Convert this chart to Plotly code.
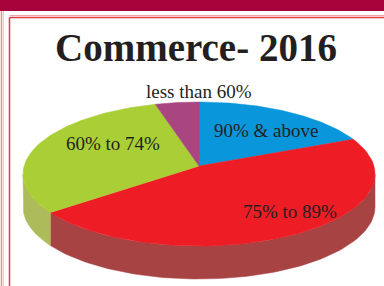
import numpy as np
import plotly.graph_objects as go

# ---- data ----
categories = ["90% & above", "75% to 89%", "60% to 74%", "less than 60%"]
values = [17, 49, 30, 4]
title_text = "Commerce- 2016"

# ---- styles ----
top_colors = ["#0A96DA", "#EE1C25", "#AACE36", "#A9467F"]
side_colors = ["#0A6E9E", "#A84343", "#AEBB5A", "#7A3360"]
label_pos = {  # label anchor positions (pixel space)
    "90% & above": (266, 130),
    "75% to 89%": (290, 211),
    "60% to 74%": (113, 143),
    "less than 60%": (199, 91),
}

W, H = 384, 286
cx, cy = 199, 174      # ellipse centre of top face
rx, ry = 176, 72       # ellipse radii
vy = 166               # apparent pie vertex (perspective)
thick = 33             # side depth


def arc(a0, a1, n=80):
    th = np.radians(np.linspace(a0, a1, n))
    return cx + rx * np.sin(th), cy - ry * np.cos(th)


fig = go.Figure()

total = sum(values)
bounds = np.concatenate([[0], np.cumsum(values) / total * 360])

# sides (front half only: 90..270 deg)
for i, cat in enumerate(categories):
    a0, a1 = max(bounds[i], 90), min(bounds[i + 1], 270)
    if a1 <= a0:
        continue
    xs, ys = arc(a0, a1)
    px = np.concatenate([xs, xs[::-1], xs[:1]])
    py = np.concatenate([ys, ys[::-1] + thick, ys[:1]])
    fig.add_trace(go.Scatter(x=px, y=py, mode="lines", fill="toself",
                             fillcolor=side_colors[i], line=dict(width=0.5, color=side_colors[i]),
                             hoverinfo="skip", showlegend=False))

# top faces
for i, cat in enumerate(categories):
    xs, ys = arc(bounds[i], bounds[i + 1])
    px = np.concatenate([[cx], xs, [cx]])
    py = np.concatenate([[vy], ys, [vy]])
    fig.add_trace(go.Scatter(x=px, y=py, mode="lines", fill="toself",
                             fillcolor=top_colors[i], line=dict(width=0.5, color=top_colors[i]),
                             name=cat, showlegend=False))

annotations = []
for cat in categories:
    x, y = label_pos[cat]
    annotations.append(dict(x=x, y=y, xref="x", yref="y", text=cat, showarrow=False,
                            font=dict(family="Liberation Serif", size=19, color="#231F20")))
annotations.append(dict(x=196, y=47, xref="x", yref="y", text="<b>" + title_text + "</b>",
                        showarrow=False,
                        font=dict(family="Liberation Serif", size=39, color="#231F20")))
# partially visible heading in banner
annotations.append(dict(x=102, y=-7, xref="x", yref="y", text="<b>e- 2016</b>",
                        showarrow=False, xanchor="right",
                        font=dict(family="Liberation Serif", size=34, color="#FFFFFF")))

shapes = [
    dict(type="rect", xref="x", yref="y", x0=-5, x1=W + 5, y0=-5, y1=11,
         fillcolor="#A6043A", line=dict(width=0), layer="below"),
    dict(type="line", xref="x", yref="y", x0=9.5, x1=W + 5, y0=15.5, y1=15.5,
         line=dict(color="#F4A3A8", width=1)),
    dict(type="line", xref="x", yref="y", x0=9.5, x1=W + 5, y0=17.5, y1=17.5,
         line=dict(color="#E33A45", width=1.5)),
    dict(type="line", xref="x", yref="y", x0=9.5, x1=9.5, y0=17.5, y1=H + 5,
         line=dict(color="#E33A45", width=1.5)),
    dict(type="line", xref="x", yref="y", x0=1.5, x1=1.5, y0=11, y1=H + 5,
         line=dict(color="#F28A90", width=1.5)),
    dict(type="line", xref="x", yref="y", x0=3.5, x1=3.5, y0=11, y1=H + 5,
         line=dict(color="#F9C6C9", width=1)),
]

fig.update_layout(
    width=W, height=H, autosize=False,
    margin=dict(l=0, r=0, t=0, b=0, pad=0),
    paper_bgcolor="white", plot_bgcolor="white",
    xaxis=dict(range=[0, W], visible=False, fixedrange=True),
    yaxis=dict(range=[H, 0], visible=False, fixedrange=True),
    annotations=annotations, shapes=shapes,
)

fig.write_html(
    "out.html",
    config={"displayModeBar": False},
    post_script="document.body.style.margin='0';document.body.style.overflow='hidden';",
)
